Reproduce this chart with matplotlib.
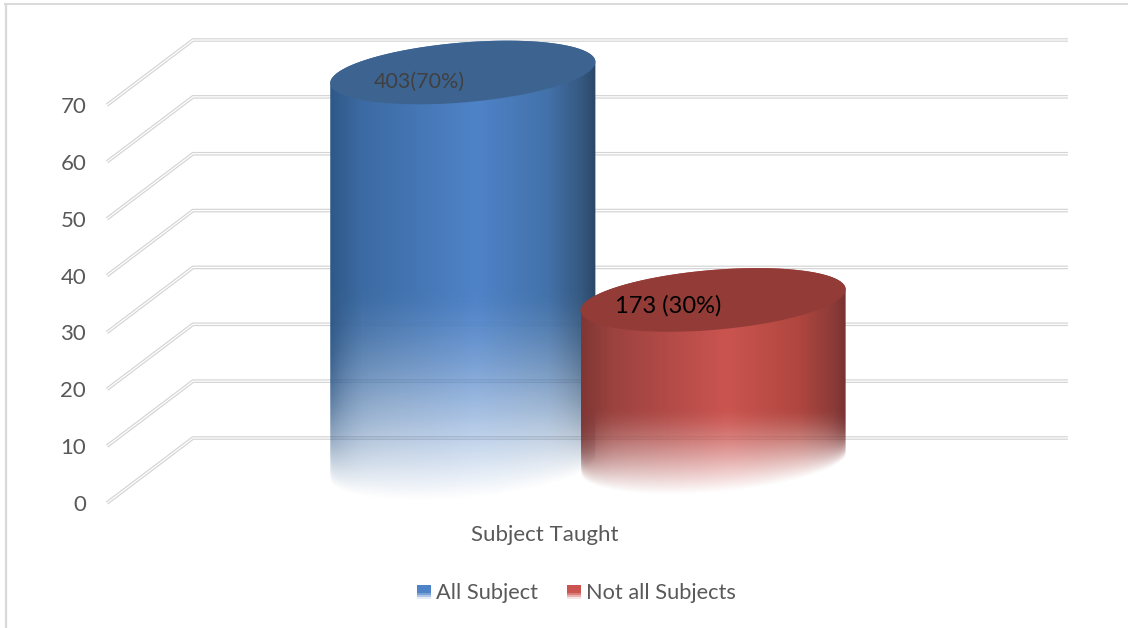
import numpy as np
import matplotlib
matplotlib.use('Agg')
import matplotlib.pyplot as plt
from matplotlib.colors import to_rgb
from matplotlib.legend_handler import HandlerBase
from matplotlib.lines import Line2D
from matplotlib.patches import PathPatch, Patch, Rectangle
from matplotlib.path import Path
from matplotlib.transforms import Affine2D, IdentityTransform

category = ['Subject Taught']
series_names = ['All Subject', 'Not all Subjects']
series_values = [70, 30]
data_labels = ['403(70%)', '173 (30%)']
y_ticks = [0, 10, 20, 30, 40, 50, 60, 70]

W, H = 1128, 628
DEPTH_X, DEPTH_Y = 86, 65
BAR_POS = [-0.1425, 0.1435]
BAR_WIDTH = 0.303
ELL_B, ELL_SHEAR = 30, 0.08

STOPS = [0, 0.12, 0.55, 0.82, 0.95, 1]
BODY = [
    ['#2f5888', '#3c6ba3', '#4f83c8', '#4372aa', '#35587f', '#2b4767'],
    ['#7f3734', '#9c423f', '#cb5450', '#b0463f', '#8c3b38', '#763230'],
]
CAP = ['#3d6491', '#923b37']
# y pixel where the fade starts and ends for each bar
FADE = [(295, 503), (410, 497)]

plt.rcParams['font.family'] = ['Lato', 'DejaVu Sans']
TEXT = '#595959'


def ellipse_xy(cx, cy, a, t):
    return np.column_stack([cx + a * np.cos(t),
                            cy + ELL_B * np.sin(t) + ELL_SHEAR * a * np.cos(t)])


def body_image(colours, fade, a):
    nx, ny = 300, 300
    rgb = np.array([to_rgb(c) for c in colours])
    fx = np.linspace(0, 1, nx)
    row = np.column_stack([np.interp(fx, STOPS, rgb[:, i]) for i in range(3)])
    img = np.zeros((ny, nx, 4))
    img[:, :, :3] = row
    ypx = np.linspace(0, H, ny)[:, None]
    # fade reaches zero along the curved bottom edge of the cylinder
    curve = ELL_B * np.sqrt(np.clip(1 - (2 * fx - 1) ** 2, 0, 1)) - ELL_B
    curve = curve - ELL_SHEAR * a * (2 * fx - 1)
    span = fade[1] - fade[0]
    t = np.clip((ypx - fade[0]) / (span + curve[None, :] - 4), 0, 1)
    # soft start of the fade, sides stay dark for longer
    t = t ** 1.3
    side = np.abs(2 * fx - 1)[None, :] ** 6
    img[:, :, 3] = (1 - t) + side * t * (1 - t)
    return img[::-1]


class FadeSwatch(HandlerBase):
    def create_artists(self, legend, orig_handle, xd, yd, width, height, fontsize, trans):
        out = []
        n = 7
        for i in range(n):
            frac = i / n
            alpha = 1.0 if frac > 0.4 else 0.15 + 0.85 * frac / 0.4
            r = Rectangle((0, height * frac), width, height / n,
                          facecolor=orig_handle.get_facecolor()[:3], alpha=alpha,
                          edgecolor='none', antialiased=False, transform=trans)
            out.append(r)
        return out


def main():
    fig = plt.figure(figsize=(W / 100, H / 100), dpi=100, facecolor='white')
    left, right, top, bottom = 107, 982, 105, 503
    ax = fig.add_axes([left / W, 1 - bottom / H, (right - left) / W, (bottom - top) / H])
    ax.set_xlim(-0.5, 0.5)
    ax.set_ylim(0, 70)
    ax.autoscale(False)
    ax.patch.set_visible(False)
    for s in ax.spines.values():
        s.set_visible(False)

    ax.set_yticks(y_ticks)
    ax.set_xticks([0])
    ax.set_xticklabels(category)
    ax.tick_params(axis='both', length=0, labelsize=16, labelcolor=TEXT)
    ax.tick_params(axis='x', pad=16)
    ax.tick_params(axis='y', pad=15)

    # walls: gridlines run from the front edge to the back wall
    back = ax.transData + Affine2D().translate(DEPTH_X, DEPTH_Y)
    for v in y_ticks:
        x0, y0 = ax.transData.transform((-0.5, v))
        x1, y1 = back.transform((-0.5, v))
        x2, y2 = back.transform((0.5, v))
        for lw, col in ((2.6, '#d4d4d4'), (0.9, '#ffffff')):
            ax.add_line(Line2D([x0, x1, x2], [y0, y1, y2], transform=IdentityTransform(),
                               lw=lw, color=col, clip_on=False, zorder=1,
                               solid_joinstyle='miter', solid_capstyle='butt'))

    for i, val in enumerate(series_values):
        pos = BAR_POS[i]
        px0 = ax.transData.transform((pos - BAR_WIDTH / 2, 0))[0]
        px1 = ax.transData.transform((pos + BAR_WIDTH / 2, 0))[0]
        a = (px1 - px0) / 2
        cx = (px0 + px1) / 2 + DEPTH_X / 2
        base_y = ax.transData.transform((pos, 0))[1] + DEPTH_Y / 2
        top_y = ax.transData.transform((pos, val))[1] + DEPTH_Y / 2

        upper = ellipse_xy(cx, top_y, a, np.linspace(0, np.pi, 80))
        lower = ellipse_xy(cx, base_y, a, np.linspace(np.pi, 2 * np.pi, 80))
        outline = np.vstack([upper, lower, upper[:1]])

        im = ax.imshow(body_image(BODY[i], FADE[i], a),
                       extent=(cx - a, cx + a, 0, H), origin='lower',
                       aspect='auto', interpolation='bilinear',
                       transform=IdentityTransform(), zorder=2 + 2 * i)
        im.set_clip_box(fig.bbox)
        im.set_clip_path(Path(outline, closed=True), IdentityTransform())

        cap = ellipse_xy(cx, top_y, a, np.linspace(0, 2 * np.pi, 160))
        ax.add_patch(PathPatch(Path(cap, closed=True), facecolor=CAP[i], edgecolor='none',
                               transform=IdentityTransform(), clip_on=False, zorder=3 + 2 * i))

    ax.annotate(data_labels[0], xy=(BAR_POS[0], series_values[0]), xytext=(0, 17),
                textcoords='offset points', ha='center', va='center',
                fontsize=15.5, color='#404040', zorder=10, annotation_clip=False)
    ax.annotate(data_labels[1], xy=(BAR_POS[1], series_values[1]), xytext=(-1, 19),
                textcoords='offset points', ha='center', va='center',
                fontsize=17, color='#000000', zorder=10, annotation_clip=False)

    handles = [Patch(facecolor=BODY[0][2]), Patch(facecolor=BODY[1][2])]
    ax.legend(handles, series_names, handler_map={Patch: FadeSwatch()},
              loc='center', bbox_to_anchor=(576 / W, 1 - 593 / H),
              bbox_transform=fig.transFigure, ncol=2, frameon=False,
              fontsize=15.7, labelcolor=TEXT, handlelength=0.64, handleheight=0.6,
              handletextpad=0.23, columnspacing=1.33, borderpad=0)

    # outer chart border, only the top and left edges are inside the crop
    fig.add_artist(Line2D([5.5 / W, 5.5 / W], [0, 1 - 3.5 / H], color='#d9d9d9', lw=1.6))
    fig.add_artist(Line2D([5 / W, 1], [1 - 3.5 / H, 1 - 3.5 / H], color='#d9d9d9', lw=1.4))

    fig.savefig('out.png', dpi=100, facecolor='white')


if __name__ == "__main__":
    main()
